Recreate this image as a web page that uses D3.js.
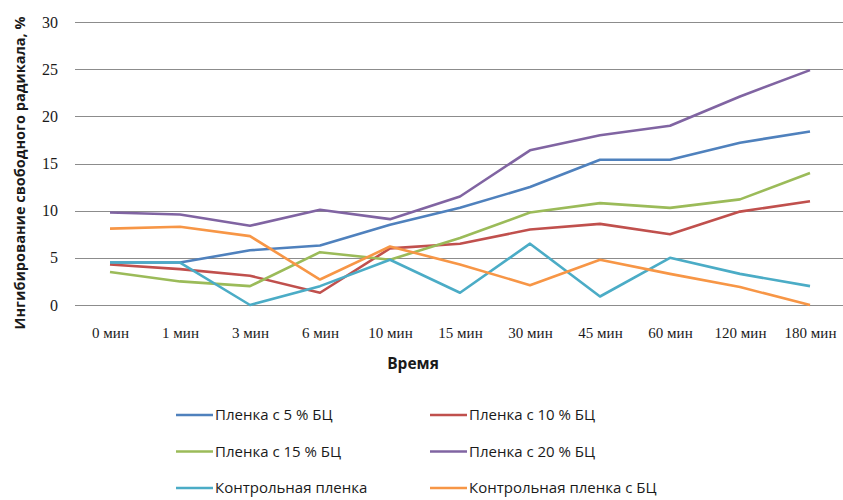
<!DOCTYPE html>
<html>
<head>
<meta charset="utf-8">
<script src="https://cdn.jsdelivr.net/npm/d3@7"></script>
<style>
  body { margin: 0; background: #fff; }
</style>
</head>
<body>
<svg id="chart"></svg>
<script>
const width = 843, height = 500;
const grid_color = "#8c8c8c", text_color = "#1a1a1a";
const serif_font = "'Liberation Serif', 'DejaVu Serif', serif";
const sans_font = "'Open Sans', 'Liberation Sans', sans-serif";

// Categories and series
const categories = ["0 мин", "1 мин", "3 мин", "6 мин", "10 мин", "15 мин", "30 мин", "45 мин", "60 мин", "120 мин", "180 мин"];
const yTicks = [0, 5, 10, 15, 20, 25, 30];

const film5  = [4.5, 4.5, 5.8, 6.3, 8.5, 10.3, 12.5, 15.4, 15.4, 17.2, 18.4];
const film10 = [4.3, 3.8, 3.1, 1.3, 6.0, 6.5, 8.0, 8.6, 7.5, 9.9, 11.0];
const film15 = [3.5, 2.5, 2.0, 5.6, 4.8, 7.1, 9.8, 10.8, 10.3, 11.2, 14.0];
const film20 = [9.8, 9.6, 8.4, 10.1, 9.1, 11.5, 16.4, 18.0, 19.0, 22.1, 24.9];
const control = [4.5, 4.5, 0.0, 2.0, 4.8, 1.3, 6.5, 0.9, 5.0, 3.3, 2.0];
const controlBC = [8.1, 8.3, 7.3, 2.7, 6.2, 4.3, 2.1, 4.8, 3.3, 1.9, 0.0];

const series = [
  { name: "Пленка с 5 % БЦ", values: film5, color: "#4F81BD" },
  { name: "Пленка с 10 % БЦ", values: film10, color: "#C0504D" },
  { name: "Пленка с 15 % БЦ", values: film15, color: "#9BBB59" },
  { name: "Пленка с 20 % БЦ", values: film20, color: "#8064A2" },
  { name: "Контрольная пленка", values: control, color: "#4BACC6" },
  { name: "Контрольная пленка с БЦ", values: controlBC, color: "#F79646" }
];

const svg = d3.select("#chart")
  .attr("width", width)
  .attr("height", height);

const plot = { left: 75, right: 845, top: 22, bottom: 305 };

const x = d3.scalePoint()
  .domain(categories)
  .range([plot.left, plot.right])
  .padding(0.5);

const y = d3.scaleLinear()
  .domain([0, 30])
  .range([plot.bottom, plot.top]);

////////////////////////////////////
//          Grid & Axes           //
////////////////////////////////////

svg.append("g")
  .selectAll("line")
  .data(yTicks)
  .enter()
  .append("line")
  .attr("x1", plot.left)
  .attr("x2", plot.right)
  .attr("y1", d => Math.round(y(d)) + 0.5)
  .attr("y2", d => Math.round(y(d)) + 0.5)
  .attr("stroke", grid_color)
  .attr("stroke-width", 1.2);

const yAxis = svg.append("g")
  .attr("transform", `translate(${plot.left - 17},0)`)
  .call(d3.axisLeft(y).tickValues(yTicks).tickSize(0).tickPadding(0));
yAxis.select(".domain").remove();
yAxis.selectAll("text")
  .attr("font-family", serif_font)
  .attr("font-size", "16px")
  .attr("fill", text_color);

const xAxis = svg.append("g")
  .attr("transform", `translate(0,${plot.bottom + 22})`)
  .call(d3.axisBottom(x).tickSize(0).tickPadding(0));
xAxis.select(".domain").remove();
xAxis.selectAll("text")
  .attr("font-family", serif_font)
  .attr("font-size", "15px")
  .attr("fill", text_color);

// Axis titles
svg.append("text")
  .attr("transform", `translate(25,173) rotate(-90)`)
  .attr("text-anchor", "middle")
  .attr("font-family", sans_font)
  .attr("font-weight", "bold")
  .attr("font-size", "14.5px")
  .attr("fill", text_color)
  .text("Ингибирование свободного радикала, %");

svg.append("text")
  .attr("x", 413)
  .attr("y", 369)
  .attr("text-anchor", "middle")
  .attr("font-family", sans_font)
  .attr("font-weight", "bold")
  .attr("font-size", "15.5px")
  .attr("fill", text_color)
  .text("Время");

////////////////////////////////////
//             Lines              //
////////////////////////////////////

const line = d3.line()
  .x((d, i) => x(categories[i]))
  .y(d => y(d));

svg.append("g")
  .selectAll("path")
  .data(series)
  .enter()
  .append("path")
  .attr("d", d => line(d.values))
  .attr("fill", "none")
  .attr("stroke", d => d.color)
  .attr("stroke-width", 2.6)
  .attr("stroke-linejoin", "round");

////////////////////////////////////
//            Legend              //
////////////////////////////////////

const legend = svg.append("g")
  .selectAll("g")
  .data(series)
  .enter()
  .append("g")
  .attr("transform", (d, i) => `translate(${i % 2 === 0 ? 176 : 430},${415 + Math.floor(i / 2) * 36.5})`);

legend.append("line")
  .attr("x1", 0)
  .attr("x2", 37)
  .attr("stroke", d => d.color)
  .attr("stroke-width", 2.4);

legend.append("text")
  .attr("x", 39)
  .attr("dy", "0.35em")
  .attr("font-family", sans_font)
  .attr("font-size", "15px")
  .attr("fill", text_color)
  .text(d => d.name);
</script>
</body>
</html>
